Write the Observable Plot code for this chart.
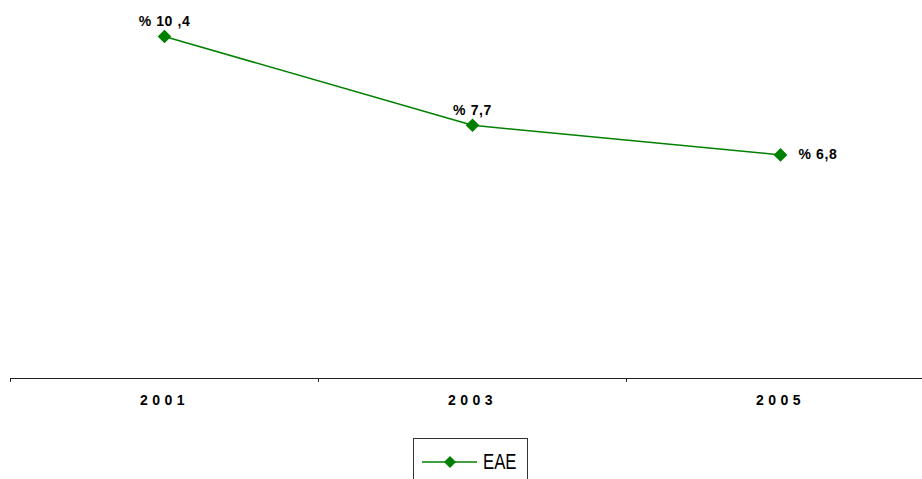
<!DOCTYPE html>
<html>
<head>
<meta charset="utf-8">
<script src="https://cdn.jsdelivr.net/npm/d3@7"></script>
<script src="https://cdn.jsdelivr.net/npm/@observablehq/plot@0.6"></script>
<style>
  html, body { margin: 0; padding: 0; background: #fff; overflow: hidden; }
  #wrap { width: 922px; height: 479px; overflow: hidden; position: relative; }
  #chart { width: 934px; }
  #chart svg { display: block; max-width: none !important; height: 430px !important; width: 934px !important; }
  #legend {
    position: absolute; left: 413px; top: 438px; width: 115px; height: 60px;
    border: 1px solid #333; box-sizing: border-box; display: flex; align-items: flex-start;
    padding-top: 12px; padding-left: 8px;
    font-family: "Liberation Sans", Arial, sans-serif;
    font-size: 22px; color: #000;
  }
  #legend span { margin-left: 6px; line-height: 22px; display: inline-block; transform: scaleX(0.76); transform-origin: left center; }
</style>
</head>
<body>
<div id="wrap">
  <div id="chart"></div>
  <div id="legend"></div>
</div>
<script>
const years = [2001, 2003, 2005];
const values = [10.4, 7.7, 6.8];
const labels = ["% 10 ,4", "% 7,7", "% 6,8"];
const seriesName = "EAE";
const bandEdges = [2000, 2002, 2004, 2006];

const data = years.map((y, i) => ({year: y, value: values[i], label: labels[i]}));
const green = "#008000";

const chart = Plot.plot({
  width: 934,
  height: 430,
  marginLeft: 10,
  marginRight: 0,
  marginTop: 36,
  marginBottom: 52,
  style: {fontFamily: "'Liberation Sans', Arial, sans-serif", background: "#fff", maxWidth: "none"},
  x: {domain: [2000, 2006], axis: null},
  y: {domain: [0, 10.4], axis: null},
  marks: [
    Plot.ruleY([0], {stroke: "#222", strokeWidth: 1}),
    Plot.ruleX(bandEdges, {y1: 0, y2: -0.12, stroke: "#222", strokeWidth: 1}),
    Plot.axisX(years, {
      tickSize: 0, tickPadding: 17, tickFormat: d => String(d),
      fontWeight: "bold", fontSize: 14, label: null, stroke: null
    }),
    Plot.line(data, {x: "year", y: "value", stroke: green, strokeWidth: 1.5}),
    Plot.dot(data, {x: "year", y: "value", symbol: "diamond2", r: 5.2, fill: green, stroke: green}),
    Plot.text(data.slice(0, 2), {x: "year", y: "value", text: "label", dy: -15,
      fontWeight: "bold", fontSize: 14, fill: "#000"}),
    Plot.text(data.slice(2), {x: "year", y: "value", text: "label", dx: 18, textAnchor: "start",
      fontWeight: "bold", fontSize: 14, fill: "#000"})
  ]
});
document.getElementById("chart").appendChild(chart);
// letter spacing to mimic the spaced-out bold labels
chart.querySelectorAll("g[aria-label='x-axis tick label'] text").forEach(t => t.style.letterSpacing = "4.5px");
chart.querySelectorAll("g[aria-label='text'] text").forEach(t => t.style.letterSpacing = "0.6px");

// legend
const leg = document.getElementById("legend");
const sw = d3.create("svg").attr("width", 56).attr("height", 22);
sw.append("line").attr("x1", 0).attr("x2", 56).attr("y1", 11).attr("y2", 11)
  .attr("stroke", green).attr("stroke-width", 1.5);
sw.append("path").attr("d", d3.symbol(d3.symbolDiamond2, 92)()).attr("transform", "translate(28,11)")
  .attr("fill", green);
leg.appendChild(sw.node());
const s = document.createElement("span");
s.textContent = seriesName;
leg.appendChild(s);
</script>
</body>
</html>
